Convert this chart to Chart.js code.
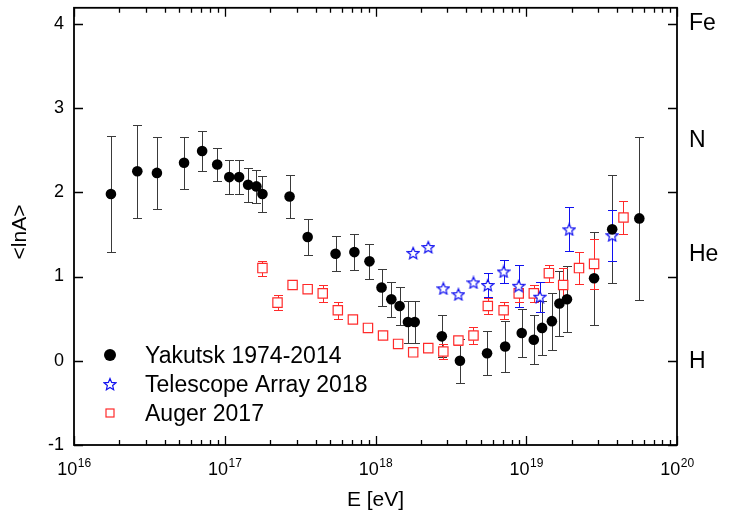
<!DOCTYPE html>
<html>
<head>
<meta charset="utf-8">
<script src="https://cdn.jsdelivr.net/npm/chart.js@4"></script>
<style>
  body { margin: 0; background: #fff; }
  canvas { display: block; }
</style>
</head>
<body>
<canvas id="lnaChart" width="733" height="523"></canvas>
<script>
// lg(E/eV), <lnA> and its (symmetric) error
const yakLgE = [16.245, 16.42, 16.55, 16.73, 16.85, 16.95, 17.03, 17.095, 17.155, 17.21, 17.25, 17.43,
                17.55, 17.735, 17.86, 17.96, 18.04, 18.105, 18.16, 18.215, 18.26, 18.44, 18.56, 18.74,
                18.86, 18.97, 19.05, 19.105, 19.17, 19.22, 19.27, 19.45, 19.57, 19.75];
const yakLnA = [1.98, 2.25, 2.23, 2.35, 2.49, 2.33, 2.18, 2.18, 2.09, 2.07, 1.98, 1.95,
                1.47, 1.27, 1.29, 1.18, 0.87, 0.73, 0.65, 0.46, 0.46, 0.29, 0.00, 0.09,
                0.17, 0.33, 0.25, 0.39, 0.47, 0.68, 0.73, 0.98, 1.56, 1.69];
const yakErr = [0.69, 0.55, 0.43, 0.31, 0.24, 0.20, 0.20, 0.20, 0.20, 0.20, 0.21, 0.25,
                0.21, 0.21, 0.21, 0.21, 0.22, 0.21, 0.22, 0.25, 0.25, 0.25, 0.26, 0.26,
                0.30, 0.29, 0.29, 0.32, 0.34, 0.39, 0.39, 0.55, 0.64, 0.97];

const taLgE = [18.25, 18.35, 18.45, 18.55, 18.65, 18.745, 18.85, 18.95, 19.09, 19.285, 19.57];
const taLnA = [1.28, 1.35, 0.86, 0.79, 0.93, 0.90, 1.06, 0.89, 0.76, 1.56, 1.49];
const taErr = [0, 0, 0, 0, 0, 0.14, 0.14, 0.25, 0.18, 0.26, 0.30];

const augLgE = [17.25, 17.35, 17.45, 17.55, 17.65, 17.75, 17.85, 17.95, 18.05, 18.15, 18.25, 18.35,
                18.45, 18.55, 18.65, 18.745, 18.85, 18.95, 19.05, 19.15, 19.245, 19.35, 19.45, 19.645];
const augLnA = [1.10, 0.69, 0.90, 0.85, 0.80, 0.60, 0.49, 0.39, 0.30, 0.20, 0.10, 0.15,
                0.11, 0.24, 0.30, 0.65, 0.60, 0.80, 0.80, 1.04, 0.90, 1.10, 1.15, 1.70];
const augErr = [0.09, 0.09, 0, 0, 0.10, 0.10, 0, 0, 0, 0, 0, 0,
                0.09, 0.05, 0.10, 0.10, 0.10, 0.10, 0.10, 0.10, 0.20, 0.19, 0.30, 0.20];

const seriesNames = ['Yakutsk 1974-2014', 'Telescope Array 2018', 'Auger 2017'];
const xDecades = [16, 17, 18, 19, 20];
const yTicks = [-1, 0, 1, 2, 3, 4];
const massNames = ['Fe', 'N', 'He', 'H'];
const massLnA = [4.01, 2.63, 1.27, 0];

const FONT = '"Liberation Sans", Arial, sans-serif';
const BLUE = '#1010f0';
const RED = '#ff2a2a';

function toPoints(lgE, lnA, err) {
  return lgE.map((v, i) => ({ x: Math.pow(10, v), y: lnA[i], e: err[i] }));
}

// hollow 5-point star marker
function makeStar(size) {
  const c = document.createElement('canvas');
  c.width = size; c.height = size;
  const g = c.getContext('2d');
  const cx = size / 2, cy = size / 2 + 0.7, R = size / 2 - 0.8, r = R * 0.45;
  g.beginPath();
  for (let i = 0; i < 10; i++) {
    const a = -Math.PI / 2 + i * Math.PI / 5;
    const rr = i % 2 ? r : R;
    g.lineTo(cx + rr * Math.cos(a), cy + rr * Math.sin(a));
  }
  g.closePath();
  g.fillStyle = '#fff';
  g.fill();
  g.strokeStyle = BLUE;
  g.lineWidth = 1.2;
  g.stroke();
  return c;
}
const starImg = makeStar(14);

const errorBars = {
  id: 'errorBars',
  beforeDatasetsDraw(chart) {
    const { ctx, chartArea: a, scales: { x, y } } = chart;
    ctx.save();
    ctx.beginPath();
    ctx.rect(a.left, a.top, a.right - a.left, a.bottom - a.top);
    ctx.clip();
    chart.data.datasets.forEach(ds => {
      ctx.strokeStyle = ds.errorColor;
      ctx.lineWidth = 1;
      ds.data.forEach(p => {
        if (!p.e) return;
        const px = Math.round(x.getPixelForValue(p.x)) + 0.5;
        const y1 = Math.round(y.getPixelForValue(p.y + p.e)) + 0.5;
        const y2 = Math.round(y.getPixelForValue(p.y - p.e)) + 0.5;
        ctx.beginPath();
        ctx.moveTo(px, y1); ctx.lineTo(px, y2);
        ctx.moveTo(px - 4.5, y1); ctx.lineTo(px + 4.5, y1);
        ctx.moveTo(px - 4.5, y2); ctx.lineTo(px + 4.5, y2);
        ctx.stroke();
      });
    });
    ctx.restore();
  }
};

const frameAndLabels = {
  id: 'frameAndLabels',
  afterDraw(chart) {
    const { ctx, chartArea: a, scales: { x, y } } = chart;
    ctx.save();
    ctx.strokeStyle = '#000';
    ctx.fillStyle = '#000';

    // ticks (inward)
    ctx.lineWidth = 1.3;
    ctx.beginPath();
    yTicks.forEach(v => {
      const py = Math.round(y.getPixelForValue(v)) + 0.5;
      ctx.moveTo(a.left, py); ctx.lineTo(a.left + 9, py);
      ctx.moveTo(a.right, py); ctx.lineTo(a.right - 9, py);
    });
    xDecades.forEach((d, i) => {
      const px = Math.round(x.getPixelForValue(Math.pow(10, d))) + 0.5;
      ctx.moveTo(px, a.bottom); ctx.lineTo(px, a.bottom - 9);
      ctx.moveTo(px, a.top); ctx.lineTo(px, a.top + 9);
      if (i === xDecades.length - 1) return;
      for (let m = 2; m <= 9; m++) {
        const mx = Math.round(x.getPixelForValue(m * Math.pow(10, d))) + 0.5;
        ctx.moveTo(mx, a.bottom); ctx.lineTo(mx, a.bottom - 5);
        ctx.moveTo(mx, a.top); ctx.lineTo(mx, a.top + 5);
      }
    });
    ctx.stroke();

    // frame
    ctx.lineWidth = 1.8;
    ctx.strokeRect(a.left, a.top, a.right - a.left, a.bottom - a.top);

    // y tick labels
    ctx.font = '18px ' + FONT;
    ctx.textAlign = 'right';
    ctx.textBaseline = 'middle';
    yTicks.forEach(v => ctx.fillText(String(v), a.left - 10, y.getPixelForValue(v)));

    // x tick labels 10^n
    ctx.textBaseline = 'alphabetic';
    ctx.textAlign = 'left';
    xDecades.forEach(d => {
      const px = x.getPixelForValue(Math.pow(10, d));
      ctx.font = '18px ' + FONT;
      const w1 = ctx.measureText('10').width;
      ctx.font = '12px ' + FONT;
      const w2 = ctx.measureText(String(d)).width;
      const x0 = px - (w1 + w2) / 2;
      ctx.font = '18px ' + FONT;
      ctx.fillText('10', x0, a.bottom + 30);
      ctx.font = '12px ' + FONT;
      ctx.fillText(String(d), x0 + w1 + 0.5, a.bottom + 22);
    });

    // axis titles
    ctx.font = '21px ' + FONT;
    ctx.textAlign = 'center';
    ctx.fillText('E [eV]', (a.left + a.right) / 2, a.bottom + 61);
    ctx.save();
    ctx.translate(26, 232);
    ctx.rotate(-Math.PI / 2);
    ctx.fillText('<lnA>', 0, 0);
    ctx.restore();

    // mass labels on the right
    ctx.font = '23px ' + FONT;
    ctx.textAlign = 'left';
    ctx.textBaseline = 'middle';
    massNames.forEach((n, i) => ctx.fillText(n, a.right + 12, y.getPixelForValue(massLnA[i]) + 1));

    // legend inside the plot
    const rows = [355, 384, 413];
    ctx.font = '23px ' + FONT;
    ctx.textBaseline = 'alphabetic';
    seriesNames.forEach((n, i) => ctx.fillText(n, 145, rows[i] + 7.5));
    ctx.beginPath();
    ctx.arc(110, rows[0], 6, 0, Math.PI * 2);
    ctx.fill();
    ctx.drawImage(starImg, 110 - starImg.width / 2, rows[1] - starImg.height / 2);
    ctx.strokeStyle = RED;
    ctx.lineWidth = 1.2;
    ctx.strokeRect(106, rows[2] - 4, 8, 8);
    ctx.restore();
  }
};

const yakData = toPoints(yakLgE, yakLnA, yakErr);
const taData = toPoints(taLgE, taLnA, taErr);
const augData = toPoints(augLgE, augLnA, augErr);

new Chart(document.getElementById('lnaChart'), {
  type: 'scatter',
  data: {
    datasets: [
      {
        label: seriesNames[0], data: yakData, order: 1,
        pointStyle: 'circle', pointRadius: 5.3, backgroundColor: '#000', borderWidth: 0,
        errorColor: '#3a3a3a'
      },
      {
        label: seriesNames[1], data: taData, order: 2,
        pointStyle: starImg, pointRadius: 6,
        errorColor: BLUE
      },
      {
        label: seriesNames[2], data: augData, order: 3,
        pointStyle: 'rect', pointRadius: 6.6, backgroundColor: '#fff',
        borderColor: RED, borderWidth: 1.2,
        errorColor: RED
      }
    ]
  },
  options: {
    responsive: false,
    animation: false,
    layout: { padding: { top: 3, right: 56, left: 0, bottom: 0 } },
    plugins: { legend: { display: false }, tooltip: { enabled: false } },
    scales: {
      x: {
        type: 'logarithmic', min: 1e16, max: 1e20,
        ticks: { display: false }, grid: { display: false }, border: { display: false },
        afterFit: s => { s.height = 78; }
      },
      y: {
        min: -1, max: 4.19,
        ticks: { display: false }, grid: { display: false }, border: { display: false },
        afterFit: s => { s.width = 74; }
      }
    }
  },
  plugins: [errorBars, frameAndLabels]
});
</script>
</body>
</html>
